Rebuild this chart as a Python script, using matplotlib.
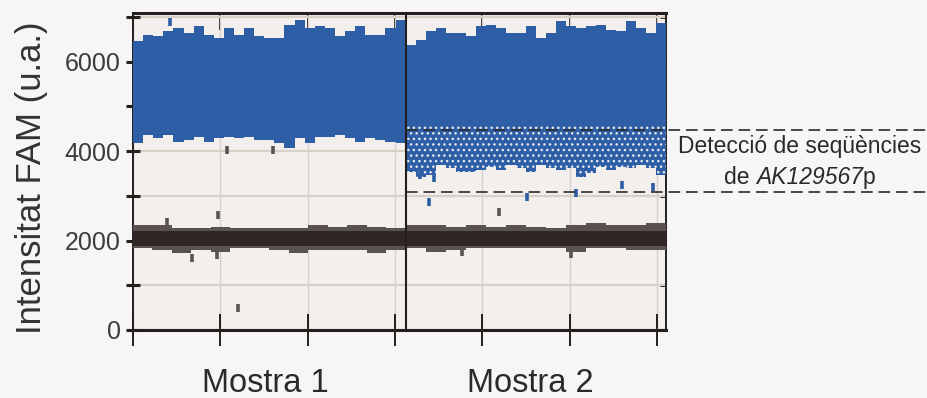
import numpy as np
import matplotlib
matplotlib.use("Agg")
import matplotlib.pyplot as plt
from matplotlib.transforms import blended_transform_factory
from matplotlib.offsetbox import TextArea, HPacker, VPacker, AnnotationBbox

plt.rcParams['font.family'] = ['Liberation Sans', 'DejaVu Sans']

# x axis: droplet event index (arbitrary units, one tick per unit)
sample_names = ["Mostra 1", "Mostra 2"]
sample_label_x = [1.51, 4.55]
x_start, x_split, x_end = 0.0, 3.12, 6.1

# blue (positive) droplets, envelope
s1_blue_top = [6458, 6607, 6570, 6682, 6756, 6644, 6793, 6607, 6532, 6756, 6607, 6756, 6570, 6532,
               6532, 6830, 6942, 6756, 6793, 6756, 6570, 6682, 6793, 6607, 6607, 6756, 6942]
s1_blue_bottom = [4176, 4362, 4287, 4362, 4213, 4250, 4325, 4213, 4287, 4325, 4287, 4325, 4250, 4250,
                  4176, 4064, 4287, 4176, 4325, 4325, 4362, 4287, 4213, 4287, 4250, 4213, 4176]
s2_blue_top = [6383, 6495, 6682, 6756, 6644, 6644, 6570, 6793, 6830, 6756, 6644, 6644, 6793,
               6532, 6644, 6905, 6793, 6756, 6793, 6830, 6719, 6682, 6905, 6756, 6644, 6868]
s2_blue_dense_bottom = 4520
s2_blue_sparse_bottom = [3542, 3430, 3467, 3691, 3617, 3542, 3542, 3579, 3654, 3579, 3691, 3617, 3542,
                         3691, 3617, 3579, 3617, 3430, 3505, 3654, 3579, 3654, 3617, 3691, 3617, 3467]

# black (negative) droplets
s1_black_top = [2349, 2349, 2274, 2274, 2311, 2274, 2274, 2274, 2274, 2349, 2311, 2349, 2311, 2274]
s1_black_bottom = [1827, 1790, 1715, 1790, 1753, 1827, 1827, 1790, 1715, 1790, 1790, 1790, 1715, 1790]
s2_black_top = [2349, 2349, 2311, 2349, 2311, 2349, 2311, 2274, 2349, 2386, 2349, 2349, 2386]
s2_black_bottom = [1827, 1753, 1790, 1827, 1827, 1827, 1827, 1827, 1753, 1827, 1827, 1790, 1790]
black_core = (1880, 2220)

# isolated droplets
blue_out_x = [3.39, 4.51, 5.07, 5.60, 5.95, 3.44, 3.29, 0.42]
blue_out_y = [2870, 2968, 3058, 3244, 3192, 3400, 3467, 6900]
gray_out_x = [1.07, 1.60, 0.39, 0.97, 0.68, 0.96, 1.20, 4.19, 3.77, 5.01]
gray_out_y = [4027, 4027, 2423, 2573, 1611, 1678, 485, 2646, 1752, 1700]

# detection window drawn in sample 2
detect_low, detect_high = 3080, 4480

blue = "#2d5ea6"
dark = "#241e1c"


def band(ax, x0, x1, low, high, **kw):
    n = max(len(np.atleast_1d(low)), len(np.atleast_1d(high)))
    edges = np.linspace(x0, x1, n + 1)
    lo = np.append(np.broadcast_to(low, n), np.broadcast_to(low, n)[-1])
    hi = np.append(np.broadcast_to(high, n), np.broadcast_to(high, n)[-1])
    ax.fill_between(edges, lo, hi, step="post", linewidth=0, **kw)


fig = plt.figure(figsize=(9.27, 3.98), dpi=100, facecolor="#f6f6f6")
ax = fig.add_axes([0.1435, 0.1709, 0.5749, 0.7964])
ax.set_facecolor("#f2efec")

# blue clusters
band(ax, x_start, x_split, s1_blue_bottom, s1_blue_top, color=blue, zorder=3)
band(ax, x_split, x_end, s2_blue_dense_bottom, s2_blue_top, color=blue, zorder=3)
band(ax, x_split, x_end, s2_blue_sparse_bottom, s2_blue_dense_bottom + 60,
     facecolor=blue, edgecolor="#e4e9f0", hatch="...", zorder=3)

# black clusters
band(ax, x_start, x_split, s1_black_bottom, s1_black_top, color="#5a5250", zorder=3)
band(ax, x_split, x_end, s2_black_bottom, s2_black_top, color="#5a5250", zorder=3)
ax.fill_between([x_start, x_end], *black_core, color="#2e2725", linewidth=0, zorder=3)

ax.plot(blue_out_x, blue_out_y, linestyle="none", marker="|", ms=6, mew=2.6, color=blue, zorder=4)
ax.plot(gray_out_x, gray_out_y, linestyle="none", marker="|", ms=6, mew=2.6, color="#5a5350", zorder=4)

# divider between samples
ax.axvline(x_split, color=dark, lw=1.5, zorder=5)

# detection window dashes, running out to the right of the axes
for yv in (detect_low, detect_high):
    ax.plot([x_split, 9.2], [yv, yv], color="#2b2b2b", lw=1.2, dashes=(7, 3.5),
            clip_on=False, zorder=6)

txt = dict(fontsize=16.5, color="#2a2a2a")
line1 = TextArea("Detecció de seqüències", textprops=txt)
line2 = HPacker(children=[TextArea("de\u00a0", textprops=txt),
                          TextArea("AK129567", textprops=dict(style="italic", **txt)),
                          TextArea("p", textprops=txt)], sep=0, pad=0, align="baseline")
block = VPacker(children=[line1, line2], sep=6, pad=0, align="center")
fig.add_artist(AnnotationBbox(block, (800 / 927, 1 - 162 / 398), xycoords="figure fraction",
                              frameon=False, box_alignment=(0.5, 0.5)))

ax.set_xlim(x_start, x_end)
ax.set_ylim(0, 7090)
xticks = np.arange(0, 7)
yticks = np.arange(0, 7001, 1000)
ax.set_xticks(xticks)
ax.set_xticklabels([])
ax.set_yticks(yticks)
ax.set_yticklabels([str(v) if v % 2000 == 0 else "" for v in yticks])

ax.grid(axis="y", color="#d8cfc6", lw=1.6, zorder=1)
ax.grid(axis="x", color="#d4d0cc", lw=1.0, zorder=1)
ax.set_axisbelow(True)

ax.tick_params(axis="x", bottom=True, top=False, direction="inout",
               length=23, width=1.4, color=dark)
ax.tick_params(axis="y", left=True, right=False, direction="inout", length=9.5, width=2.2,
               color=dark, labelsize=18, labelcolor="#3c3c3c", pad=4)

# inward ticks on the top and right frame
top = ax.secondary_xaxis("top")
top.set_xticks(xticks)
top.set_xticklabels([])
top.tick_params(direction="in", length=12, width=1.4, color=dark)
right = ax.secondary_yaxis("right")
right.set_yticks(yticks)
right.set_yticklabels([])
right.tick_params(direction="in", length=4, width=2.2, color=dark)
for sec in (top, right):
    for sp in sec.spines.values():
        sp.set_visible(False)

for side, lw in (("top", 2.2), ("bottom", 2.2), ("left", 1.4), ("right", 1.4)):
    ax.spines[side].set_color(dark)
    ax.spines[side].set_linewidth(lw)

trans = blended_transform_factory(ax.transData, fig.transFigure)
for name, xl in zip(sample_names, sample_label_x):
    ax.text(xl, 1 - 383 / 398, name, transform=trans, ha="center", va="center",
            fontsize=23.5, color="#2a2a2a")

fig.text(32 / 927, 1 - 178 / 398, "Intensitat FAM (u.a.)", rotation=90,
         ha="center", va="center", fontsize=25, color="#333333")

fig.savefig("out.png", dpi=100, facecolor=fig.get_facecolor())
